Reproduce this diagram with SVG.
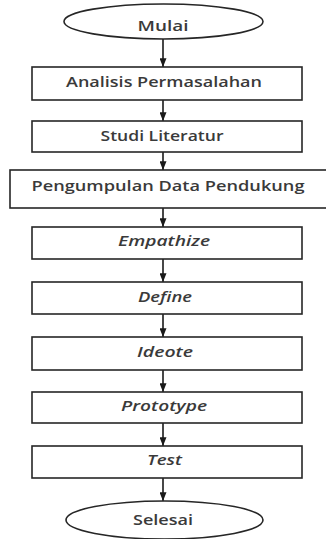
<svg xmlns="http://www.w3.org/2000/svg" width="326" height="539" viewBox="0 0 326 539">
  <style>
    .shape { fill: #ffffff; stroke: #262626; stroke-width: 1.6; }
    .label { font-family: "Open Sans", "Liberation Sans", sans-serif; font-size: 14px; font-weight: 600; fill: #3a3a3a; text-anchor: middle; }
    .it { font-style: italic; }
    .conn { stroke: #1a1a1a; stroke-width: 1.6; fill: none; marker-end: url(#arrow); }
  </style>
  <defs>
    <marker id="arrow" viewBox="0 0 10 8" refX="10" refY="4" markerWidth="9" markerHeight="7" markerUnits="userSpaceOnUse" orient="auto">
      <path d="M0,0 L10,4 L0,8 Z" fill="#1a1a1a"/>
    </marker>
  </defs>
  <rect width="326" height="539" fill="#ffffff"/>

  <g id="connectors">
    <line class="conn" x1="163" y1="39" x2="163" y2="67"/>
    <line class="conn" x1="163" y1="100" x2="163" y2="121"/>
    <line class="conn" x1="163" y1="152" x2="163" y2="170"/>
    <line class="conn" x1="163" y1="208" x2="163" y2="227"/>
    <line class="conn" x1="163" y1="259" x2="163" y2="282"/>
    <line class="conn" x1="163" y1="314" x2="163" y2="337"/>
    <line class="conn" x1="163" y1="370" x2="163" y2="392"/>
    <line class="conn" x1="163" y1="423" x2="163" y2="446"/>
    <line class="conn" x1="163" y1="478" x2="163" y2="501"/>
  </g>

  <g id="mulai">
    <ellipse class="shape" cx="163.5" cy="21.5" rx="99.5" ry="17.5"/>
    <text class="label" x="163" y="31" textLength="51" lengthAdjust="spacingAndGlyphs">Mulai</text>
  </g>
  <g id="analisis">
    <rect class="shape" x="32" y="67" width="270" height="33"/>
    <text class="label" x="164" y="87" textLength="196" lengthAdjust="spacingAndGlyphs">Analisis Permasalahan</text>
  </g>
  <g id="studi">
    <rect class="shape" x="32" y="121" width="270" height="31"/>
    <text class="label" x="162" y="141" textLength="123" lengthAdjust="spacingAndGlyphs">Studi Literatur</text>
  </g>
  <g id="pengumpulan">
    <rect class="shape" x="10" y="170" width="324" height="38"/>
    <text class="label" x="168" y="191" textLength="273" lengthAdjust="spacingAndGlyphs">Pengumpulan Data Pendukung</text>
  </g>
  <g id="empathize">
    <rect class="shape" x="32" y="227" width="270" height="32"/>
    <text class="label it" x="164" y="246" textLength="92" lengthAdjust="spacingAndGlyphs">Empathize</text>
  </g>
  <g id="define">
    <rect class="shape" x="32" y="282" width="270" height="32"/>
    <text class="label it" x="165" y="302" textLength="54" lengthAdjust="spacingAndGlyphs">Define</text>
  </g>
  <g id="ideote">
    <rect class="shape" x="32" y="337" width="270" height="33"/>
    <text class="label it" x="165" y="357" textLength="56" lengthAdjust="spacingAndGlyphs">Ideote</text>
  </g>
  <g id="prototype">
    <rect class="shape" x="32" y="392" width="270" height="31"/>
    <text class="label it" x="164" y="411" textLength="86" lengthAdjust="spacingAndGlyphs">Prototype</text>
  </g>
  <g id="test">
    <rect class="shape" x="32" y="446" width="270" height="32"/>
    <text class="label it" x="164.5" y="465" textLength="35" lengthAdjust="spacingAndGlyphs">Test</text>
  </g>
  <g id="selesai">
    <ellipse class="shape" cx="164.5" cy="520" rx="98.5" ry="19"/>
    <text class="label" x="163" y="525" textLength="60" lengthAdjust="spacingAndGlyphs">Selesai</text>
  </g>
</svg>
